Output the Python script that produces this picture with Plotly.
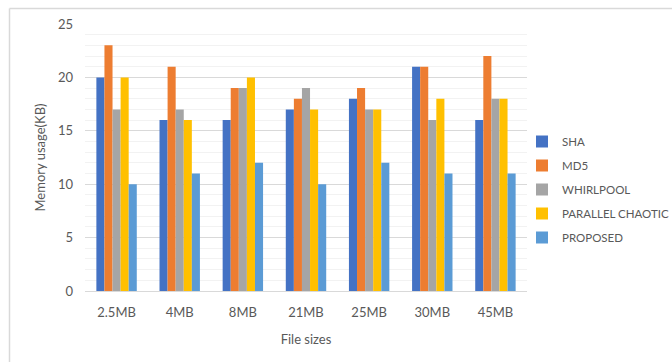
import plotly.graph_objects as go

# File sizes tested and memory usage (KB) per hashing method
file_sizes = ["2.5MB", "4MB", "8MB", "21MB", "25MB", "30MB", "45MB"]
sha = [20, 16, 16, 17, 18, 21, 16]
md5 = [23, 21, 19, 18, 19, 21, 22]
whirlpool = [17, 17, 19, 19, 17, 16, 18]
parallel_chaotic = [20, 16, 20, 17, 17, 18, 18]
proposed = [10, 11, 12, 10, 12, 11, 11]

series = [
    ("SHA", sha, "#4472C4"),
    ("MD5", md5, "#ED7D31"),
    ("WHIRLPOOL", whirlpool, "#A5A5A5"),
    ("PARALLEL CHAOTIC", parallel_chaotic, "#FFC000"),
    ("PROPOSED", proposed, "#5B9BD5"),
]

FONT = "Lato, 'Open Sans', sans-serif"
TXT = "#595959"

fig = go.Figure()
for name, vals, color in series:
    fig.add_trace(go.Bar(x=file_sizes, y=vals, name=name, legendgroup=name,
                         marker=dict(color=color, line=dict(width=0))))

# plot area geometry (pixels)
W, H = 672, 362
L, R, T, B = 85, 145, 24, 71
pw, ph = W - L - R, H - T - B

def px_x(p):
    return (p - L) / pw

def px_y(p):
    return (H - B - p) / ph

# light outer frame on the top and left edges
fig.add_shape(type="line", xref="paper", yref="paper",
              x0=px_x(9.5), x1=px_x(700), y0=px_y(8.5), y1=px_y(8.5),
              line=dict(color="#D9D9D9", width=1.5))
fig.add_shape(type="line", xref="paper", yref="paper",
              x0=px_x(9.5), x1=px_x(9.5), y0=px_y(8.5), y1=px_y(400),
              line=dict(color="#D9D9D9", width=1.5))

fig.update_layout(
    width=W, height=H,
    margin=dict(l=L, r=R, t=T, b=B, autoexpand=False),
    paper_bgcolor="white", plot_bgcolor="white",
    barmode="group", bargap=0.36, bargroupgap=0,
    font=dict(family=FONT, size=13, color=TXT),
    showlegend=True,
    legend=dict(x=px_x(522), y=px_y(127), xanchor="left", yanchor="top",
                font=dict(family=FONT, size=11.5, color=TXT),
                itemsizing="constant", tracegroupgap=5, itemwidth=30,
                bgcolor="rgba(0,0,0,0)"),
    xaxis=dict(showgrid=False, showline=True, linecolor="#D9D9D9", linewidth=1,
               ticks="", ticklabelstandoff=9,
               tickfont=dict(family=FONT, size=13, color=TXT),
               title=dict(text="File sizes", font=dict(family=FONT, size=13, color=TXT),
                          standoff=16)),
    yaxis=dict(range=[0, 25], dtick=5, showgrid=True, gridcolor="#D9D9D9", gridwidth=1,
               minor=dict(dtick=1, showgrid=True, gridcolor="#F2F2F2", gridwidth=1),
               zeroline=False, ticks="", ticklabelstandoff=11,
               tickfont=dict(family=FONT, size=13, color=TXT),
               title=dict(text="Memory usage(KB)", font=dict(family=FONT, size=13, color=TXT),
                          standoff=9)),
)

fig.write_html("out.html")
